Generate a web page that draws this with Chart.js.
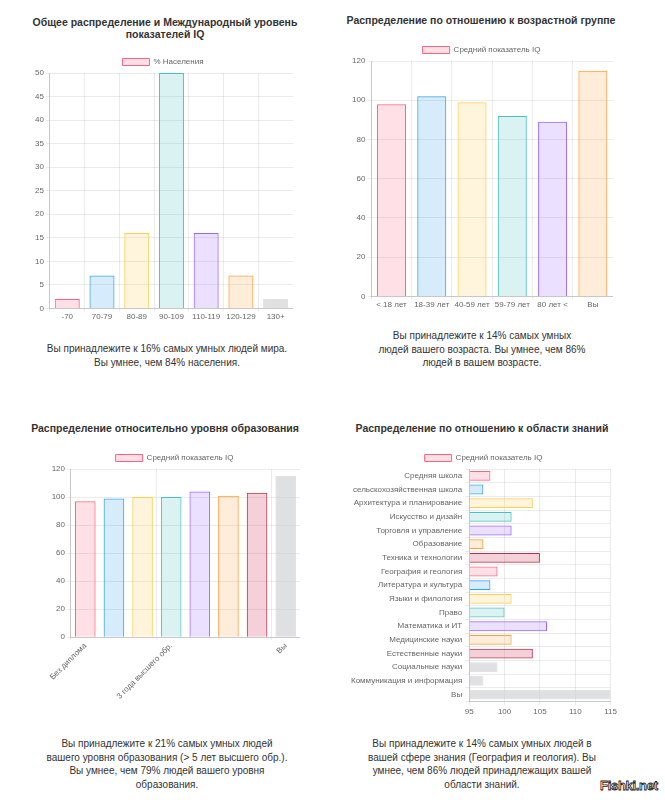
<!DOCTYPE html>
<html lang="ru">
<head>
<meta charset="utf-8">
<title>IQ</title>
<script src="https://cdn.jsdelivr.net/npm/chart.js@4.4.0/dist/chart.umd.min.js"></script>
<style>
    body { margin: 0; background: #fff; font-family: Arial, "Liberation Sans", sans-serif; color: #333; }
    #page { position: relative; width: 665px; height: 800px; overflow: hidden; }
    .title { position: absolute; width: 300px; text-align: center; font-weight: bold; font-size: 10.5px; line-height: 12px; }
    .box { position: absolute; }
    .note { position: absolute; width: 300px; text-align: center; font-size: 10px; line-height: 13.5px; }
    .mark { position: absolute; left: 600px; top: 778px; font-weight: bold; font-size: 13px; color: #fff; -webkit-text-stroke: 0.8px #222; letter-spacing: -0.3px; }
</style>
</head>
<body>
<div id="page">
    <div class="title" style="left:15px; top:16px;">Общее распределение и Международный уровень<br>показателей IQ</div>
    <div class="box" style="left:33px; top:48px; width:260px; height:275px;"><canvas id="chartDist"></canvas></div>
    <div class="note" style="left:17px; top:342px;">Вы принадлежите к 16% самых умных людей мира.<br>Вы умнее, чем 84% населения.</div>

    <div class="title" style="left:331px; top:14px;">Распределение по отношению к возрастной группе</div>
    <div class="box" style="left:350px; top:36px; width:263px; height:275px;"><canvas id="chartAge"></canvas></div>
    <div class="note" style="left:332px; top:329px;">Вы принадлежите к 14% самых умных<br>людей вашего возраста. Вы умнее, чем 86%<br>людей в вашем возрасте.</div>

    <div class="title" style="left:15px; top:422px;">Распределение относительно уровня образования</div>
    <div class="box" style="left:49px; top:444px; width:251px; height:258px;"><canvas id="chartEdu"></canvas></div>
    <div class="note" style="left:17px; top:737px;">Вы принадлежите к 21% самых умных людей<br>вашего уровня образования (&gt; 5 лет высшего обр.).<br>Вы умнее, чем 79% людей вашего уровня<br>образования.</div>

    <div class="title" style="left:332px; top:422px;">Распределение по отношению к области знаний</div>
    <div class="box" style="left:348px; top:444px; width:271px; height:275px;"><canvas id="chartField"></canvas></div>
    <div class="note" style="left:332px; top:737px;">Вы принадлежите к 14% самых умных людей в<br>вашей сфере знания (География и геология). Вы<br>умнее, чем 86% людей принадлежащих вашей<br>области знаний.</div>

    <div class="mark">Fishki.net</div>
</div>

<script>
// ---- данные ----
const distLabels = ['-70', '70-79', '80-89', '90-109', '110-119', '120-129', '130+'];
const distValues = [2, 7, 16, 50, 16, 7, 2];
const distTicks = { min: 0, max: 50, step: 5 };

const ageLabels = ['< 18 лет', '18-39 лет', '40-59 лет', '59-79 лет', '80 лет <', 'Вы'];
const ageValues = [98, 102, 99, 92, 89, 115];
const ageTicks = { min: 0, max: 120, step: 20 };

const eduLabels = ['Без диплома', 'Среднее образование', 'Среднее специальное', '3 года высшего обр.',
    '4 года высшего обр.', '5 лет высшего обр.', '> 5 лет высшего обр.', 'Вы'];
const eduValues = [97, 99, 100, 100, 104, 101, 103, 115];
const eduShownTicks = [0, 3, 7];
const eduTicks = { min: 0, max: 120, step: 20 };

const fieldLabels = ['Средняя школа', 'сельскохозяйственная школа', 'Архитектура и планирование',
    'Искусство и дизайн', 'Торговля и управление', 'Образование', 'Техника и технологии',
    'География и геология', 'Литература и культура', 'Языки и филология', 'Право',
    'Математика и ИТ', 'Медицинские науки', 'Естественные науки', 'Социальные науки',
    'Коммуникация и информация', 'Вы'];
const fieldValues = [98, 97, 104, 101, 101, 97, 105, 99, 98, 101, 100, 106, 101, 104, 99, 97, 115];
const fieldTicks = { min: 95, max: 115, step: 5 };

const legendLabel = 'Средний показатель IQ';
const distLegendLabel = '% Населения';

// ---- цвета ----
const PINK = ['rgba(255, 99, 132, 0.2)', 'rgba(255, 99, 132, 1)'];
const BLUE = ['rgba(54, 162, 235, 0.2)', 'rgba(54, 162, 235, 1)'];
const YELLOW = ['rgba(255, 206, 86, 0.2)', 'rgba(255, 206, 86, 1)'];
const TEAL = ['rgba(75, 192, 192, 0.2)', 'rgba(75, 192, 192, 1)'];
const PURPLE = ['rgba(153, 102, 255, 0.2)', 'rgba(153, 102, 255, 1)'];
const ORANGE = ['rgba(255, 159, 64, 0.2)', 'rgba(255, 159, 64, 1)'];
const RED = ['rgba(214, 40, 80, 0.22)', 'rgba(180, 50, 75, 1)'];
const GRAY = ['rgba(201, 203, 207, 0.6)', 'rgba(201, 203, 207, 0.6)'];

const distColors = [PINK, BLUE, YELLOW, TEAL, PURPLE, ORANGE, GRAY];
const ageColors = [PINK, BLUE, YELLOW, TEAL, PURPLE, ORANGE];
const eduColors = [PINK, BLUE, YELLOW, TEAL, PURPLE, ORANGE, RED, GRAY];
const fieldColors = [PINK, BLUE, YELLOW, TEAL, PURPLE, ORANGE, RED,
    PINK, BLUE, YELLOW, TEAL, PURPLE, ORANGE, RED, GRAY, GRAY, GRAY];

Chart.defaults.font.family = 'Arial, "Liberation Sans", sans-serif';
Chart.defaults.font.size = 8;
Chart.defaults.color = '#666';
Chart.defaults.animation = false;

const GRID = 'rgba(0, 0, 0, 0.08)';

// легенда у оригинала чуть ближе к графику, чем по умолчанию
const tightLegend = {
    id: 'tightLegend',
    beforeInit(chart) {
        const fit = chart.legend.fit;
        chart.legend.fit = function () {
            fit.call(this);
            this.height -= 3;
        };
    }
};

function legendOpts() {
    return {
        display: true,
        position: 'top',
        labels: { boxWidth: 27, boxHeight: 7, padding: 10, font: { size: 8 } }
    };
}

function dataset(label, values, colors, extra) {
    return Object.assign({
        label: label,
        data: values,
        backgroundColor: colors.map(c => c[0]),
        borderColor: colors.map(c => c[1]),
        borderWidth: 1
    }, extra || {});
}

function valueAxis(t, tick) {
    return {
        min: t.min,
        max: t.max,
        ticks: { stepSize: t.step, padding: tick.padding },
        grid: { color: GRID, tickLength: tick.len },
        border: { color: 'rgba(0,0,0,0.15)' }
    };
}

function catAxis(tick) {
    return {
        ticks: { padding: tick.padding, autoSkip: false, maxRotation: 0 },
        grid: { color: GRID, tickLength: tick.len },
        border: { color: 'rgba(0,0,0,0.15)' }
    };
}

function verticalBar(id, labels, values, colors, t, label) {
    return new Chart(document.getElementById(id), {
        type: 'bar',
        data: { labels: labels, datasets: [dataset(label, values, colors)] },
        options: {
            responsive: true,
            maintainAspectRatio: false,
            plugins: { legend: legendOpts(), tooltip: { enabled: false } },
            scales: {
                x: catAxis({ padding: 1, len: 3 }),
                y: valueAxis(t, { padding: 2, len: 4 })
            }
        },
        plugins: [tightLegend]
    });
}

verticalBar('chartDist', distLabels, distValues, distColors, distTicks, distLegendLabel);
verticalBar('chartAge', ageLabels, ageValues, ageColors, ageTicks, legendLabel);

// образование: подписи под углом, видны только некоторые
const eduX = catAxis({ padding: 1, len: 3 });
eduX.ticks.minRotation = 45;
eduX.ticks.maxRotation = 45;
eduX.ticks.callback = function (value, index) {
    return eduShownTicks.includes(index) ? this.getLabelForValue(value) : '';
};
eduX.grid.color = ctx => eduShownTicks.includes(ctx.index) ? GRID : 'rgba(0,0,0,0)';

new Chart(document.getElementById('chartEdu'), {
    type: 'bar',
    data: { labels: eduLabels, datasets: [dataset(legendLabel, eduValues, eduColors)] },
    options: {
        responsive: true,
        maintainAspectRatio: false,
        plugins: { legend: legendOpts(), tooltip: { enabled: false } },
        scales: {
            x: eduX,
            y: valueAxis(eduTicks, { padding: 2, len: 4 })
        }
    },
    plugins: [tightLegend]
});

// область знаний: горизонтальные столбцы
new Chart(document.getElementById('chartField'), {
    type: 'bar',
    data: {
        labels: fieldLabels,
        datasets: [dataset(legendLabel, fieldValues, fieldColors, { base: fieldTicks.min })]
    },
    options: {
        indexAxis: 'y',
        responsive: true,
        maintainAspectRatio: false,
        plugins: { legend: legendOpts(), tooltip: { enabled: false } },
        scales: {
            x: valueAxis(fieldTicks, { padding: 2, len: 4 }),
            y: catAxis({ padding: 3, len: 4 })
        }
    },
    plugins: [tightLegend]
});
</script>
</body>
</html>
